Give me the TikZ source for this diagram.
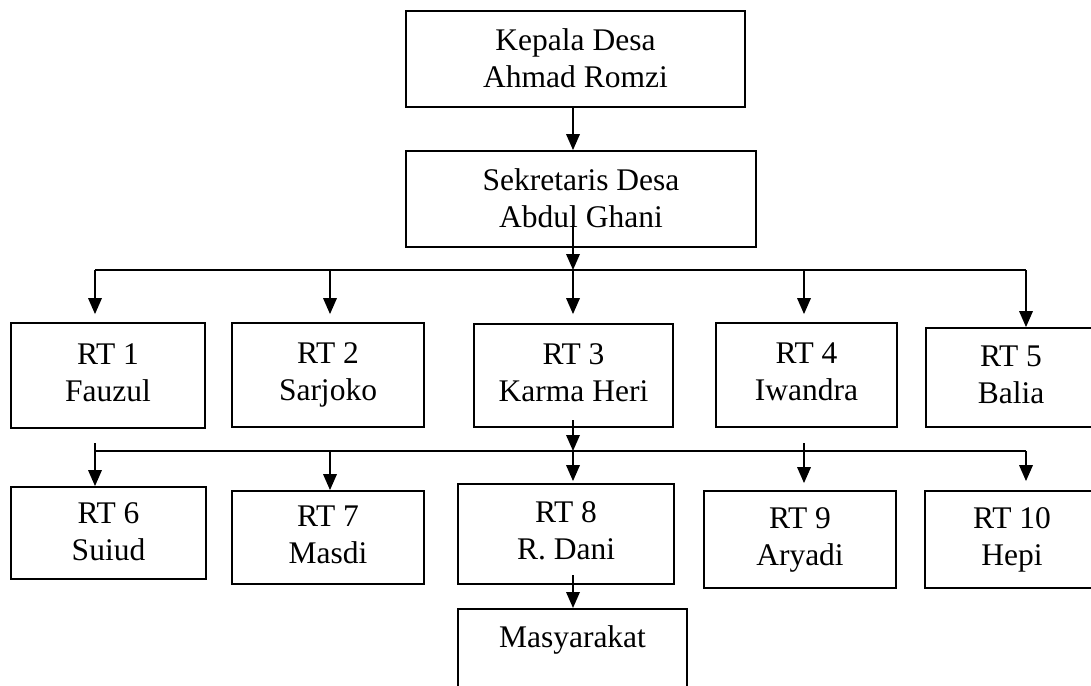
\documentclass[tikz,border=0pt]{standalone}
\usepackage{fontspec}
\setmainfont{Liberation Serif}
\usetikzlibrary{arrows.meta}
\tikzset{
  box/.style={draw, line width=1.8pt, inner sep=0pt, align=center,
    font=\fontsize{31.5}{37}\selectfont},
  link/.style={line width=1.8pt},
  arr/.style={line width=1.8pt, -{Triangle[length=16pt,width=13.5pt]}}
}
\begin{document}
\begin{tikzpicture}[x=1pt,y=-1pt]
\useasboundingbox (0,0) rectangle (1091,685);
% top
\node[box, minimum width=339pt, minimum height=96pt] (kd) at (575.5,59) {\rule{0pt}{32pt}Kepala Desa\\Ahmad Romzi\strut};
\node[box, minimum width=350pt, minimum height=96pt] (sd) at (581,199) {\rule{0pt}{32pt}Sekretaris Desa\\Abdul Ghani\strut};
% first row
\node[box, minimum width=194pt, minimum height=105pt] (rt1) at (108,375.5) {\strut RT 1\\Fauzul\strut};
\node[box, minimum width=192pt, minimum height=104pt] (rt2) at (328,375) {\strut RT 2\\Sarjoko\strut};
\node[box, minimum width=199pt, minimum height=103pt] (rt3) at (573.5,375.5) {\strut RT 3\\Karma Heri\strut};
\node[box, minimum width=181pt, minimum height=104pt] (rt4) at (806.5,375) {\strut RT 4\\Iwandra\strut};
\node[box, minimum width=170pt, minimum height=99pt] (rt5) at (1011,377.5) {\strut RT 5\\Balia\strut};
% second row
\node[box, minimum width=195pt, minimum height=92pt] (rt6) at (108.5,533) {\rule{0pt}{30pt}RT 6\\Suiud\strut};
\node[box, minimum width=192pt, minimum height=93pt] (rt7) at (328,537.5) {\strut RT 7\\Masdi\strut};
\node[box, minimum width=216pt, minimum height=100pt] (rt8) at (566,534) {\strut RT 8\\R. Dani\strut};
\node[box, minimum width=192pt, minimum height=97pt] (rt9) at (800,539.5) {\strut RT 9\\Aryadi\strut};
\node[box, minimum width=174pt, minimum height=97pt] (rt10) at (1012,539.5) {\strut RT 10\\Hepi\strut};
% bottom
\node[box, anchor=north, minimum width=229pt, text height=39pt, text depth=52pt] (mas) at (572.5,608) {Masyarakat};
% coordinates
\coordinate (s1) at (573,225);
\coordinate (b1) at (573,270);
\coordinate (bl) at (95,270);
\coordinate (br) at (1026,270);
\coordinate (t2) at (330,270);
\coordinate (t4) at (804,270);
\coordinate (r3) at (573,420);
\coordinate (b2) at (573,451);
\coordinate (cl) at (95,451);
\coordinate (cr) at (1026,451);
\coordinate (u1) at (95,443);
\coordinate (u2) at (330,451);
\coordinate (u4) at (804,443);
\coordinate (r8) at (573,575);
% connectors
\draw[arr] (kd.south -| b1) -- (sd.north -| b1);
\draw[link] (bl) -- (br);
\draw[arr] (s1) -- (b1);
\draw[arr, shorten >=8pt] (bl) -- (bl |- rt1.north);
\draw[arr, shorten >=8pt] (t2) -- (t2 |- rt2.north);
\draw[arr, shorten >=9pt] (b1) -- (b1 |- rt3.north);
\draw[arr, shorten >=8pt] (t4) -- (t4 |- rt4.north);
\draw[arr] (br) -- (br |- rt5.north);
\draw[link] (cl) -- (cr);
\draw[arr] (r3) -- (b2);
\draw[arr] (u1) -- (u1 |- rt6.north);
\draw[arr] (u2) -- (u2 |- rt7.north);
\draw[arr, shorten >=2pt] (b2) -- (b2 |- rt8.north);
\draw[arr, shorten >=7pt] (u4) -- (u4 |- rt9.north);
\draw[arr, shorten >=9pt] (cr) -- (cr |- rt10.north);
\draw[arr] (r8) -- (r8 |- mas.north);
\end{tikzpicture}
\end{document}
